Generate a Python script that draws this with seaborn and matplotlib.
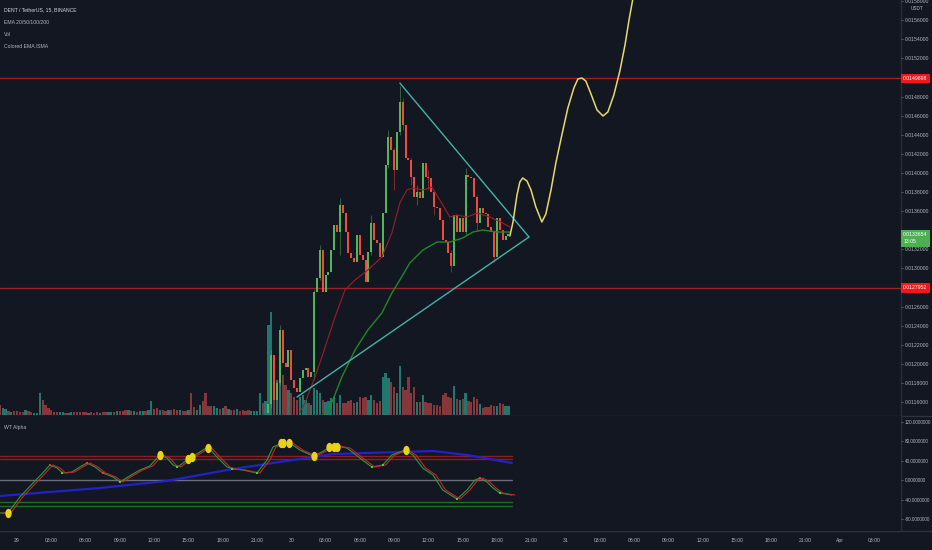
import numpy as np
import matplotlib
matplotlib.use("Agg")
import matplotlib.pyplot as plt
import seaborn as sns
from matplotlib.lines import Line2D

# ---------------- data ----------------
# 15-minute candles, index 0 = 28 Mar 22:30 ; visible candles start at index 94
first_idx = 94
open0 = 0.011486
close = [0.011580, 0.012093, 0.011622, 0.011800, 0.012355, 0.012009, 0.011968, 0.012146,
         0.011831, 0.011748, 0.011706, 0.011852, 0.011936, 0.011957, 0.011863, 0.011915,
         0.012753, 0.012900, 0.013193, 0.012753, 0.012931, 0.012962, 0.013193, 0.013454,
         0.013381, 0.013664, 0.013580, 0.013381, 0.013161, 0.013109, 0.013067, 0.013350,
         0.013140, 0.013088, 0.012858, 0.013172, 0.013475, 0.013297, 0.013266, 0.013119,
         0.013580, 0.014083, 0.014376, 0.014240, 0.014030, 0.014428, 0.014742, 0.014502,
         0.014156, 0.014135, 0.013957, 0.013748, 0.013800, 0.013737, 0.014104, 0.013957,
         0.013947, 0.013800, 0.013643, 0.013632, 0.013507, 0.013297, 0.013276, 0.013161,
         0.013025, 0.013559, 0.013381, 0.013528, 0.013381, 0.013978, 0.013957, 0.013947,
         0.013748, 0.013475, 0.013632, 0.013580, 0.013570, 0.013434, 0.013381, 0.013119,
         0.013528, 0.013402, 0.013297, 0.013339, 0.0133654]
wick_i = [95, 98, 110, 112, 119, 130, 136, 138, 140, 141, 144, 146, 150, 152, 158, 163, 167, 173]
wick_hi = [0.012146, 0.012407, 0.012774, 0.013245, 0.013737, 0.013559, 0.014449, 0.014261,
           0.014910, 0.014784, 0.014156, 0.013873, 0.014030, 0.013821, 0.013193, 0.014051,
           0.013769, 0.013402]
wick_lo = [0.011538, 0.011779, 0.011831, 0.012879, 0.013140, 0.013140, 0.014051, 0.013821,
           0.014397, 0.014449, 0.013873, 0.013664, 0.013821, 0.013559, 0.012962, 0.013350,
           0.013402, 0.013067]

# volume (relative units), all 179 candles
volume = [10, 7, 6, 4, 3, 4, 4, 3, 3, 5, 4, 3, 2, 2, 22, 15, 10, 7, 5, 3,
          3, 3, 3, 2, 2, 3, 3, 3, 3, 3, 3, 2, 3, 2, 3, 2, 3, 3, 3, 3,
          3, 4, 4, 4, 5, 5, 4, 4, 3, 4, 4, 4, 5, 14, 6, 7, 5, 5, 4, 5,
          5, 6, 5, 5, 4, 4, 5, 22, 8, 5, 10, 14, 22, 9, 9, 9, 7, 6, 7, 9,
          6, 5, 5, 6, 4, 5, 4, 5, 4, 4, 4, 22, 12, 14,
          90, 103, 60, 35, 45, 40, 30, 25, 22, 18, 15, 18, 20, 15, 12, 10, 27, 25, 22, 15,
          13, 14, 17, 18, 12, 20, 12, 12, 14, 15, 12, 13, 18, 17, 18, 15, 20, 15, 12, 14,
          38, 42,
          37, 33, 28, 22, 49, 28, 25, 38, 22, 28, 13, 13, 20, 13, 12, 12, 10, 10, 9, 20,
          22, 18, 17, 29, 16, 15, 16, 22, 14, 13, 18, 16, 11, 7, 8, 8, 10, 9, 9, 12,
          11, 9, 9]
# direction of the (off-screen) candles before the pump: u = up, d = down
pre_dir = ("duududdddudduuuddddd"
           "duuduudddddudddudduu"
           "dudddududuuduudduddu"
           "ddduddudduudddduudud"
           "uddudddduuuudu")

# EMA lines (candle index, price)
ema_red_i = [105, 106.8, 110.3, 112.7, 117.3, 120.8, 124.3, 128.8, 133.7, 137.2, 140, 142.5,
             144.6, 148.1, 151.2, 154, 157.5, 160, 163.5, 167, 171.5, 176, 178.5]
ema_red = [0.011495, 0.011591, 0.011863, 0.012072, 0.012491, 0.012774, 0.012879, 0.012983,
           0.013119, 0.013371, 0.013685, 0.013821, 0.013842, 0.013821, 0.013852, 0.013716,
           0.013538, 0.013559, 0.013538, 0.013580, 0.013538, 0.013475, 0.013434]
ema_green_i = [113.8, 119.7, 124.3, 128.8, 133.7, 137.2, 140, 143.5, 148.1, 153, 157.5, 162,
               165.6, 169, 174, 178.5]
ema_green = [0.011413, 0.011863, 0.012146, 0.012355, 0.012533, 0.012742, 0.012879, 0.013057,
             0.013193, 0.013276, 0.013276, 0.013318, 0.013381, 0.013402, 0.013381, 0.013381]

# horizontal levels and the last price
level_hi = 0.0149898
level_lo = 0.0127952
last_price = 0.0133654
countdown = "13:05"

# triangle drawing (candle index, price)
tri_upper_i = [140, 185.2]
tri_upper_p = [0.014941, 0.013329]
tri_lower_i = [104, 185.2]
tri_lower_p = [0.011653, 0.013329]

# projected yellow path
proj_i = [178.5, 179.6, 181, 182, 183, 184.5, 185.9, 187.6, 189.7, 191.1, 192.9, 194.6,
          196.7, 198.8, 200.9, 202.3, 203.7, 205.1, 206.9, 209, 211.1, 212.8, 214.9, 217,
          218.8, 220.2, 221.6]
proj_p = [0.013339, 0.013486, 0.013769, 0.013905, 0.013947, 0.013915, 0.013821, 0.013643,
          0.013486, 0.013570, 0.013821, 0.014104, 0.014397, 0.014680, 0.014889, 0.014983,
          0.014994, 0.014962, 0.014826, 0.014659, 0.014596, 0.014638, 0.014816, 0.015067,
          0.015339, 0.015601, 0.015831]

# WT Alpha oscillator
wt_i = [0, 2.8, 7, 11.6, 15, 17.5, 20, 22, 25.2, 28, 30.5, 33.3, 36, 39.6, 42, 44.8, 49,
        52.5, 56, 58.5, 60.6, 62.3, 65.5, 67.2, 70, 72.8, 76, 79.5, 81.6, 85, 90, 93.5,
        95.6, 98.7, 101.5, 105, 109.6, 112.7, 115.5, 118, 121.5, 126, 130.2, 134, 137.2,
        141.8, 144.6, 148, 151.6, 155, 160, 163.5, 166.3, 168, 170.5, 172.6, 175, 179.2]
wt_val = [-67.7, -67.7, -34.9, -6.2, 14.4, 30.8, 24.6, 14.4, 16.4, 26.7, 34.9, 26.7, 14.4,
          6.2, -4.1, 6.2, 20.5, 28.7, 51.3, 45.1, 30.8, 26.7, 41.0, 47.2, 57.4, 67.7, 47.2,
          26.7, 22.6, 20.5, 14.4, 41.0, 67.7, 75.9, 75.9, 61.5, 49.2, 57.4, 67.7, 69.7,
          65.6, 45.1, 26.7, 30.8, 51.3, 61.5, 51.3, 24.6, 10.3, -20.5, -39.0, -20.5, 0.0,
          4.1, -4.1, -16.4, -26.7, -30.8]
wt_signal_i = [0, 35, 58.5, 81.6, 105, 116.6, 140, 151.6, 163.5, 179.2]
wt_signal = [-32.8, -16.4, -2.0, 22.6, 43.1, 53.3, 57.4, 59.5, 51.3, 34.9]
ob_levels = [49, 43]
os_levels = [-45, -53]
yellow_i = [2.8, 56, 65.8, 67.2, 72.8, 98.4, 99, 101.2, 110, 115.2, 117, 118, 142.1]
yellow_v = [-67.7, 51.3, 43.1, 47.2, 65.6, 75.9, 75.9, 75.9, 49.2, 67.7, 67.7, 67.7, 61.5]
buy_i = [21.7, 42, 62, 81.2, 90, 130.2, 134, 160, 175]
buy_v = [14.4, -4.1, 26.7, 22.6, 14.4, 26.7, 30.8, -39.0, -26.7]
sell_i = [17.5, 30.5, 36, 168]
sell_v = [30.8, 34.9, 14.4, 4.1]

price_ticks = [0.0116, 0.0118, 0.0120, 0.0122, 0.0124, 0.0126, 0.0128, 0.0130, 0.0132,
               0.0134, 0.0136, 0.0138, 0.0140, 0.0142, 0.0144, 0.0146, 0.0148, 0.0150,
               0.0152, 0.0154, 0.0156, 0.0158]
hidden_ticks = [0.0128, 0.0134, 0.0150]   # covered by the price boxes
wt_ticks = [120, 80, 40, 0, -40, -80]
time_tick_i = [6, 18, 30, 42, 54, 66, 78, 90, 102, 114, 126, 138, 150, 162, 174, 186, 198,
               210, 222, 234, 246, 258, 270, 282, 294, 306]
time_labels = ["29", "03:00", "06:00", "09:00", "12:00", "15:00", "18:00", "21:00",
               "30", "03:00", "06:00", "09:00", "12:00", "15:00", "18:00", "21:00",
               "31", "03:00", "06:00", "09:00", "12:00", "15:00", "18:00", "21:00",
               "Apr", "03:00"]

# ---------------- styling ----------------
sns.set_theme(style="dark")
plt.rcParams['font.family'] = ['Liberation Sans', 'DejaVu Sans']
BG = '#131722'
TXT = '#b2b5be'
UP, DN = '#53b55a', '#ef4a3c'
VUP, VDN = '#21766e', '#873739'
FS_AX = 3.7
FS_WT = 3.3
FS_HEAD = 3.7

W, H = 932, 550
def rect(x0, y0, x1, y1):
    return [x0 / W, 1 - y1 / H, (x1 - x0) / W, (y1 - y0) / H]

fig = plt.figure(figsize=(9.32, 5.5), dpi=100, facecolor=BG)
axv = fig.add_axes(rect(0, 0, 901, 415), zorder=1)
ax = fig.add_axes(rect(0, 0, 901, 415), sharex=axv, zorder=2)
axw = fig.add_axes(rect(0, 416, 901, 531), sharex=axv, zorder=2)
for a in (axv, ax, axw):
    a.set_facecolor('none')
    for s in a.spines.values():
        s.set_visible(False)
    a.grid(False)
axv.set_facecolor(BG)
axw.set_facecolor(BG)

axv.set_xlim(0.05, 315.4)
ax.set_ylim(0.011465, 0.0158105)
axv.set_ylim(0, 415)
axw.set_ylim(-104.6, 131.3)

# ---- volume ----
n = len(volume)
opens = [open0] + close[:-1]
cand_up = [c >= o for o, c in zip(opens, close)]
vdir = [d == 'u' for d in pre_dir] + cand_up
axv.bar(np.arange(n), volume, width=0.78, color=[VUP if u else VDN for u in vdir], linewidth=0)

# ---- candles ----
idx = np.arange(first_idx, first_idx + len(close))
cols = [UP if u else DN for u in cand_up]
wcol = [cols[i - first_idx] for i in wick_i]
ax.vlines(wick_i, wick_lo, wick_hi, colors=wcol, linewidth=0.6, alpha=0.55, zorder=2)
bottoms = np.minimum(opens, close)
heights = np.maximum(np.abs(np.array(close) - np.array(opens)), 0.000012)
ax.bar(idx, heights, bottom=bottoms, width=0.72, color=cols, linewidth=0, zorder=3)

# ---- EMAs ----
sns.lineplot(x=ema_red_i, y=ema_red, ax=ax, color='#9a1f26', linewidth=0.8, sort=False,
             estimator=None, zorder=4)
sns.lineplot(x=ema_green_i, y=ema_green, ax=ax, color='#1f8a24', linewidth=1.0, sort=False,
             estimator=None, zorder=4)

# ---- levels ----
ax.axhline(level_hi, color='#a01f27', linewidth=1.0, zorder=1)
ax.axhline(level_lo, color='#a01f27', linewidth=1.0, zorder=1)

# ---- drawings ----
sns.lineplot(x=tri_upper_i, y=tri_upper_p, ax=ax, color='#43b3a8', linewidth=1.0, sort=False,
             estimator=None, zorder=5)
sns.lineplot(x=tri_lower_i, y=tri_lower_p, ax=ax, color='#43b3a8', linewidth=1.0, sort=False,
             estimator=None, zorder=5)
sns.lineplot(x=proj_i, y=proj_p, ax=ax, color='#e9d86a', linewidth=1.1, sort=False,
             estimator=None, zorder=5)

# ---- WT pane ----
for lv in ob_levels:
    axw.plot([0, 179.2], [lv, lv], color='#8e1d22', linewidth=1.0, zorder=1)
for lv in os_levels:
    axw.plot([0, 179.2], [lv, lv], color='#1f6b28', linewidth=1.0, zorder=1)
axw.plot([0, 179.2], [0, 0], color='#6b6e79', linewidth=1.0, zorder=1)
sns.lineplot(x=wt_signal_i, y=wt_signal, ax=axw, color='#2222c8', linewidth=1.6, sort=False,
             estimator=None, zorder=2)
sns.lineplot(x=wt_i, y=wt_val, ax=axw, color='#2c9a3a', linewidth=0.8, sort=False,
             estimator=None, zorder=3)
sns.lineplot(x=np.array(wt_i) + 1.0, y=wt_val, ax=axw, color='#c4262a', linewidth=0.8,
             sort=False, estimator=None, zorder=3)
t = np.linspace(0, 2 * np.pi, 30)
ell = np.column_stack([0.68 * np.cos(t), np.sin(t)])
sns.scatterplot(x=yellow_i, y=yellow_v, ax=axw, color='#e8d21a', marker=ell, s=45,
                linewidth=0, zorder=5)
sns.scatterplot(x=buy_i, y=buy_v, ax=axw, color='#3ccf3c', marker='s', s=3, linewidth=0, zorder=6)
sns.scatterplot(x=sell_i, y=sell_v, ax=axw, color='#e53935', marker='s', s=3, linewidth=0, zorder=6)

# ---- axes ticks ----
for a in (ax, axv):
    a.tick_params(axis='x', bottom=False, labelbottom=False)
    a.set_xlabel('')
axv.tick_params(axis='y', left=False, labelleft=False, right=False, labelright=False)
ax.yaxis.tick_right()
ax.set_yticks(price_ticks)
ax.set_yticklabels(['' if p in hidden_ticks else f'{p:.7f}' for p in price_ticks])
axw.yaxis.tick_right()
axw.set_yticks(wt_ticks)
axw.set_yticklabels([f'{v:.7f}' for v in wt_ticks])
ax.tick_params(axis='y', right=True, left=False, labelleft=False, length=1.6, width=0.5,
               color='#787b86', labelsize=FS_AX, labelcolor=TXT, pad=1.0)
axw.tick_params(axis='y', right=True, left=False, labelleft=False, length=1.6, width=0.5,
                color='#787b86', labelsize=FS_WT, labelcolor=TXT, pad=1.0)
ax.set_ylabel('')
axw.set_ylabel('')
axw.set_xticks(time_tick_i)
axw.set_xticklabels(time_labels)
axw.tick_params(axis='x', bottom=False, length=0, labelsize=FS_AX, labelcolor=TXT, pad=5)
axw.set_xlabel('')

# ---- price labels on the scale ----
def price_box(p, txt, fc, dy=0):
    ax.annotate(txt, xy=(1, p), xycoords=ax.get_yaxis_transform(), xytext=(1.6, dy),
                textcoords='offset points', va='center', ha='left', fontsize=FS_AX,
                color='white', linespacing=1.5,
                bbox=dict(boxstyle='square,pad=0.45', fc=fc, ec='none'), annotation_clip=False,
                zorder=10)
price_box(level_hi, f'{level_hi:.7f}', '#f0181d')
price_box(level_lo, f'{level_lo:.7f}', '#f0181d')
price_box(last_price, f'{last_price:.7f}\n{countdown}', '#4caf50', dy=-3.4)

# ---- frame lines ----
fig.add_artist(Line2D([901 / W, 901 / W], [1 - 531 / H, 1], transform=fig.transFigure,
                      color='#2a2e39', linewidth=1))
fig.add_artist(Line2D([0, 1], [1 - 415.5 / H, 1 - 415.5 / H], transform=fig.transFigure,
                      color='#2e323d', linewidth=1))
fig.add_artist(Line2D([0, 1], [1 - 531 / H, 1 - 531 / H], transform=fig.transFigure,
                      color='#2e323d', linewidth=1))

# ---- header texts ----
fig.text(4 / W, 1 - 10 / H, 'DENT / TetherUS, 15, BINANCE', fontsize=FS_HEAD, color='#d1d4dc', va='center')
fig.text(4 / W, 1 - 22 / H, 'EMA 20/50/100/200', fontsize=FS_HEAD, color=TXT, va='center')
fig.text(4 / W, 1 - 34 / H, 'Vol', fontsize=FS_HEAD, color=TXT, va='center')
fig.text(4 / W, 1 - 46 / H, 'Colored EMA /SMA', fontsize=FS_HEAD, color=TXT, va='center')
fig.text(4 / W, 1 - 428 / H, 'WT Alpha', fontsize=FS_HEAD, color=TXT, va='center')
fig.text(917 / W, 1 - 9 / H, 'USDT', fontsize=FS_AX - 0.3, color=TXT, va='center', ha='center')

fig.savefig('out.png', dpi=100, facecolor=BG)
